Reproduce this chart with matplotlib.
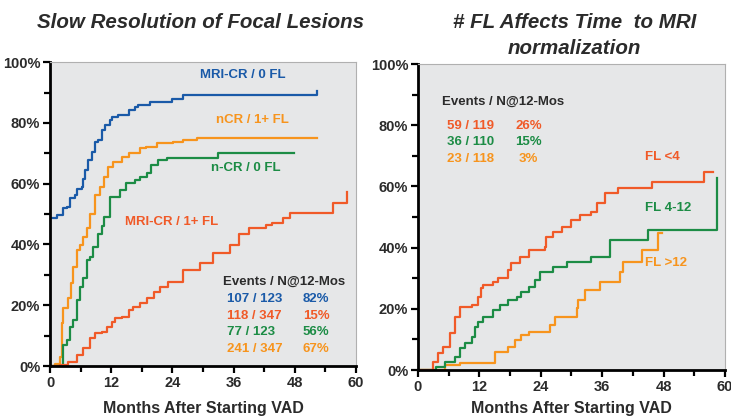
import matplotlib
matplotlib.use("Agg")
import matplotlib.pyplot as plt
from matplotlib.ticker import MultipleLocator, FuncFormatter

plt.rcParams['font.family'] = ['Liberation Sans', 'DejaVu Sans']
plt.rcParams['font.weight'] = 'bold'

# ---------------- Data: left panel ----------------
blue_m = [0, 1.0, 1.3, 2.3, 2.6, 3.3, 3.9, 4.9, 5.2, 6.2, 6.5, 6.9, 7.5, 8.2, 8.8, 9.5, 10.1, 10.8, 11.8, 12.1, 13.4, 15.4, 16.7, 17.3, 19.6, 23.9, 26.1, 52.3]
blue_p = [48.6, 48.6, 49.7, 49.7, 51.9, 52.4, 55.2, 56.2, 58.4, 59, 61.7, 64.5, 67.8, 70.5, 73.8, 74.5, 77.6, 79.3, 80.9, 82, 82.6, 84.2, 85.3, 85.9, 87, 88, 89.1, 90.4]

orange_m = [0, 1.0, 2.0, 2.3, 2.6, 3.6, 4.2, 4.6, 5.2, 5.9, 6.5, 7.2, 7.8, 8.8, 9.8, 10.5, 11.4, 12.4, 14.1, 15.4, 17.6, 18.9, 20.9, 24.2, 26.1, 28.8, 52.3]
orange_p = [0, 0.7, 3.1, 14, 19, 22.3, 27.2, 32.7, 38.2, 39.8, 42.5, 45.3, 50, 56.2, 59, 62.3, 65.6, 67.2, 68.9, 70, 71.6, 72.2, 73.3, 73.8, 74.3, 74.9, 74.9]

green_m = [0, 2.3, 2.6, 3.3, 3.9, 4.6, 5.2, 5.9, 6.5, 7.2, 7.8, 8.5, 9.5, 10.1, 10.5, 11.8, 13.7, 15.0, 16.7, 17.6, 19.0, 19.9, 21.2, 22.9, 33.0, 47.8]
green_p = [0, 0.3, 6.9, 8.6, 12.9, 15.1, 21.7, 26.1, 28.8, 34.9, 36, 39.2, 43.6, 46, 49.1, 55.7, 57.9, 60.1, 61.2, 62.3, 63.4, 66.1, 67.8, 68.3, 70, 70]

red_m = [0, 2.0, 3.6, 5.2, 6.5, 7.8, 8.8, 10.1, 11.1, 12.1, 12.7, 14.1, 15.4, 16.3, 17.6, 19.0, 20.3, 21.6, 23.2, 26.1, 29.4, 32, 35.3, 37.1, 39, 42.3, 43.6, 45.6, 47, 55.4, 58.3]
red_p = [0, 0.3, 1.4, 3.6, 5.8, 9.1, 10.7, 11.3, 12.9, 14.6, 15.7, 16.2, 18.4, 19.5, 20.6, 22.3, 24.4, 26.1, 27.7, 31.6, 33.8, 37.1, 39.8, 43.6, 45.3, 46.4, 47, 48.6, 50.2, 53.5, 57.3]

left_labels = ["MRI-CR / 0 FL", "nCR / 1+ FL", "n-CR / 0 FL", "MRI-CR / 1+ FL"]
left_events = ["107 / 123", "118 / 347", "77 / 123", "241 / 347"]
left_pcts = ["82%", "15%", "56%", "67%"]

# ---------------- Data: right panel ----------------
r_red_m = [0, 2.3, 3.0, 4.0, 4.9, 6.3, 7.2, 8.2, 10.5, 11.8, 12.4, 12.7, 14.7, 15.7, 17.6, 18.2, 19.9, 21.6, 24.8, 25.1, 26.4, 28.1, 30, 31.7, 33.9, 34.9, 36.5, 39.1, 45.7, 55.8, 57.7]
r_red_p = [0, 0, 2.7, 5.4, 7.6, 12, 17.4, 20.7, 21.2, 24, 26.7, 27.8, 28.9, 30, 32.7, 34.9, 37, 39.2, 40.3, 43.6, 45.2, 46.8, 49, 50.7, 51.7, 54.5, 57.7, 59.4, 61.5, 64.8, 64.8]

r_green_m = [0, 3.6, 5.3, 7.2, 8.2, 9.2, 10.5, 11.1, 11.8, 12.8, 14.7, 16, 17.6, 19.3, 20.2, 21.6, 22.9, 23.8, 26.4, 29.1, 33.9, 37.5, 45, 58.4, 58.4]
r_green_p = [0, 1.1, 2.7, 4.3, 7.1, 8.7, 10.9, 14.2, 15.8, 17.4, 19.6, 21.2, 22.9, 24, 25.6, 27.2, 29.4, 32.1, 33.8, 35.4, 37, 42.5, 45.8, 45.8, 62.6]

r_orange_m = [0, 4.9, 5.3, 8.2, 15, 17.6, 19, 20.2, 21.6, 25.8, 26.8, 31, 31.3, 32.6, 35.6, 39.5, 40.1, 43.7, 47, 47.6]
r_orange_p = [0, 0, 1.6, 2.2, 6.0, 7.6, 9.8, 11.4, 12.5, 14.7, 17.4, 20.2, 22.9, 26.1, 28.9, 32.1, 35.4, 39.2, 44.7, 44.7]

right_labels = ["FL <4", "FL 4-12", "FL >12"]
right_events = ["59 / 119", "36 / 110", "23 / 118"]
right_pcts = ["26%", "15%", "3%"]

# ---------------- Style ----------------
BLUE = "#1a5aa8"
ORANGE = "#f7941d"
GREEN = "#1c8c45"
RED = "#f05a28"
DARK = "#2b2b2b"
BG = "#e6e7e8"

fig = plt.figure(figsize=(7.31, 4.18), dpi=100)
ax1 = fig.add_axes([0.0684, 0.1244, 0.4186, 0.727])
ax2 = fig.add_axes([0.5718, 0.1148, 0.42, 0.732])


def style(ax):
    ax.set_facecolor(BG)
    ax.set_xlim(0, 60)
    ax.set_ylim(0, 100)
    ax.xaxis.set_major_locator(MultipleLocator(12))
    ax.xaxis.set_minor_locator(MultipleLocator(6))
    ax.yaxis.set_major_locator(MultipleLocator(20))
    ax.yaxis.set_minor_locator(MultipleLocator(10))
    ax.yaxis.set_major_formatter(FuncFormatter(lambda v, p: f"{int(v)}%"))
    ax.tick_params(which='both', direction='out', width=1.6, color='black')
    ax.tick_params(which='major', length=5, labelsize=10.5, labelcolor=DARK, pad=2)
    ax.tick_params(which='minor', length=4)
    for lab in ax.get_xticklabels() + ax.get_yticklabels():
        lab.set_fontweight('bold')
    for s in ['left', 'bottom']:
        ax.spines[s].set_linewidth(2)
        ax.spines[s].set_color('black')
    for s in ['right', 'top']:
        ax.spines[s].set_linewidth(0.8)
        ax.spines[s].set_color('#b0b0b0')


style(ax1)
style(ax2)

lw = 1.6
ax1.plot(blue_m, blue_p, drawstyle='steps-post', color=BLUE, lw=lw)
ax1.plot(orange_m, orange_p, drawstyle='steps-post', color=ORANGE, lw=lw)
ax1.plot(green_m, green_p, drawstyle='steps-post', color=GREEN, lw=lw)
ax1.plot(red_m, red_p, drawstyle='steps-post', color=RED, lw=lw)

fs = 9.5
ax1.text(37.8, 95.7, left_labels[0], color=BLUE, fontsize=fs, fontweight='bold', ha='center', va='center')
ax1.text(39.6, 80.9, left_labels[1], color=ORANGE, fontsize=fs, fontweight='bold', ha='center', va='center')
ax1.text(38.4, 65.1, left_labels[2], color=GREEN, fontsize=fs, fontweight='bold', ha='center', va='center')
ax1.text(23.9, 47.4, left_labels[3], color=RED, fontsize=fs, fontweight='bold', ha='center', va='center')

ax1.text(33.9, 27.7, "Events / N@12-Mos", color=DARK, fontsize=fs, fontweight='bold', ha='left', va='center')
lcols = [BLUE, RED, GREEN, ORANGE]
lys = [22.0, 16.4, 11.1, 5.6]
for ev, pc, c, y in zip(left_events, left_pcts, lcols, lys):
    ax1.text(34.7, y, ev, color=c, fontsize=fs, fontweight='bold', ha='left', va='center')
    ax1.text(49.6, y, pc, color=c, fontsize=fs, fontweight='bold', ha='left', va='center')

ax2.plot(r_orange_m, r_orange_p, drawstyle='steps-post', color=ORANGE, lw=lw)
ax2.plot(r_green_m, r_green_p, drawstyle='steps-post', color=GREEN, lw=lw)
ax2.plot(r_red_m, r_red_p, drawstyle='steps-post', color=RED, lw=lw)

ax2.text(47.7, 69.5, right_labels[0], color=RED, fontsize=fs, fontweight='bold', ha='center', va='center')
ax2.text(48.9, 52.8, right_labels[1], color=GREEN, fontsize=fs, fontweight='bold', ha='center', va='center')
ax2.text(48.5, 34.9, right_labels[2], color=ORANGE, fontsize=fs, fontweight='bold', ha='center', va='center')

ax2.text(4.75, 87.5, "Events / N@12-Mos", color=DARK, fontsize=fs, fontweight='bold', ha='left', va='center')
rcols = [RED, GREEN, ORANGE]
rys = [79.8, 74.4, 69.0]
for ev, pc, c, y in zip(right_events, right_pcts, rcols, rys):
    ax2.text(5.6, y, ev, color=c, fontsize=fs, fontweight='bold', ha='left', va='center')
    ax2.text(21.6, y, pc, color=c, fontsize=fs, fontweight='bold', ha='center', va='center')

# x-axis labels (placed near bottom edge like the reference)
fig.text(0.278, 0.022, "Months After Starting VAD", fontsize=11.5, fontweight='bold',
         color=DARK, ha='center', va='center')
fig.text(0.782, 0.022, "Months After Starting VAD", fontsize=11.5, fontweight='bold',
         color=DARK, ha='center', va='center')

tfs = 14.8
fig.text(0.274, 0.947, "Slow Resolution of Focal Lesions", fontsize=tfs, fontweight='bold',
         fontstyle='italic', color=DARK, ha='center', va='center')
fig.text(0.786, 0.947, "# FL Affects Time  to MRI", fontsize=tfs, fontweight='bold',
         fontstyle='italic', color=DARK, ha='center', va='center')
fig.text(0.786, 0.885, "normalization", fontsize=tfs, fontweight='bold',
         fontstyle='italic', color=DARK, ha='center', va='center')

fig.savefig("out.png", dpi=100)
